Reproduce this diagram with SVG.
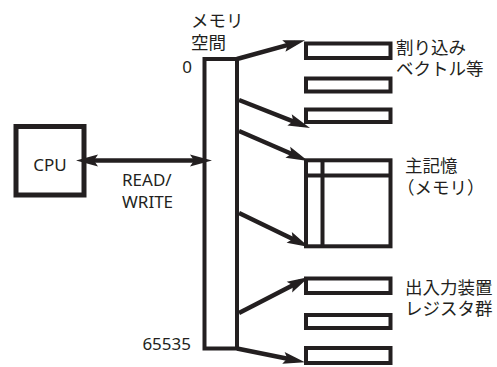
<svg xmlns="http://www.w3.org/2000/svg" width="497" height="367" viewBox="0 0 497 367">
<style>
.box{fill:#fff;stroke:#231f20;stroke-width:4}
.cpu{fill:#fff;stroke:#231f20;stroke-width:5}
.ln{fill:none;stroke:#231f20;stroke-width:4}
.ar{fill:none;stroke:#231f20;stroke-width:4.5;marker-end:url(#ah)}
.t{font-family:"Noto Sans","Noto Sans CJK JP",sans-serif;font-size:17px;fill:#231f20}
.j{font-family:"Noto Sans CJK JP","Noto Sans",sans-serif;font-size:17.5px;fill:#231f20}
</style>
<defs>
<marker id="ah" markerUnits="userSpaceOnUse" markerWidth="26" markerHeight="16" viewBox="-14 -8 26 16" refX="0" refY="0" orient="auto-start-reverse" overflow="visible">
<path d="M10,0 L-12,-6 L-8,0 L-12,6 Z" fill="#231f20"/>
</marker>
</defs>
<rect width="497" height="367" fill="#fff"/>
<g id="cpu">
<rect class="cpu" x="16" y="126.5" width="68" height="68.5"/>
<text class="t" x="50" y="171" text-anchor="middle">CPU</text>
</g>
<g id="memory-space">
<rect class="box" x="204.5" y="59" width="32.5" height="289.5"/>
<text class="j"><tspan x="191" y="27">メモリ</tspan><tspan x="191" y="49">空間</tspan></text>
<text class="t" x="192" y="73" text-anchor="end">0</text>
<text class="t" x="191" y="350" text-anchor="end">65535</text>
</g>
<g id="vector-area">
<rect class="box" x="306" y="43.5" width="84.5" height="14.5"/>
<rect class="box" x="306" y="78.5" width="84.5" height="13"/>
<rect class="box" x="306" y="109.5" width="84.5" height="12.5"/>
<text class="j"><tspan x="396" y="54">割り込み</tspan><tspan x="396" y="75">ベクトル等</tspan></text>
</g>
<g id="main-memory">
<rect class="box" x="306" y="160.3" width="84.5" height="86"/>
<line class="ln" x1="306" y1="175.5" x2="390.5" y2="175.5"/>
<line class="ln" x1="322.5" y1="160.3" x2="322.5" y2="246.3"/>
<text class="j"><tspan x="405" y="172">主記憶</tspan><tspan x="397" y="194">（メモリ）</tspan></text>
</g>
<g id="io-registers">
<rect class="box" x="306" y="278.5" width="84.5" height="14.5"/>
<rect class="box" x="306" y="315" width="84.5" height="13"/>
<rect class="box" x="306" y="348" width="84.5" height="15"/>
<text class="j"><tspan x="405" y="294">出入力装置</tspan><tspan x="405" y="315">レジスタ群</tspan></text>
</g>
<g id="connectors">
<line class="ar" x1="86" y1="160.5" x2="202" y2="160.5" marker-start="url(#ah)"/>
<text class="t"><tspan x="122" y="186">READ/</tspan><tspan x="122" y="208">WRITE</tspan></text>
<line class="ar" x1="237" y1="59" x2="295.4" y2="42.8"/>
<line class="ar" x1="239" y1="100" x2="300.7" y2="124.3"/>
<line class="ar" x1="239" y1="131" x2="298.8" y2="157"/>
<line class="ar" x1="239" y1="213" x2="300" y2="242.6"/>
<line class="ar" x1="239" y1="313" x2="300.1" y2="281.6"/>
<line class="ar" x1="237" y1="348.5" x2="295.2" y2="360.2"/>
</g>
</svg>
